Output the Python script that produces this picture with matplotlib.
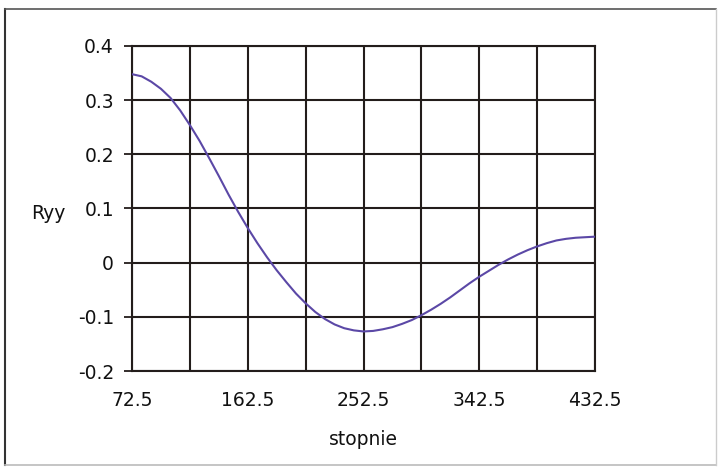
import matplotlib
matplotlib.use("Agg")
import matplotlib.pyplot as plt
from matplotlib.lines import Line2D
from matplotlib.ticker import FixedLocator

plt.rcParams['font.family'] = ['DejaVu Sans']

# Data (degrees vs Ryy)
degrees = [72.5, 80, 87.5, 95, 102.5, 110, 117.5, 125, 132.5, 140, 147.5, 155,
           162.5, 170, 177.5, 185, 192.5, 200, 207.5, 215, 222.5, 230, 237.5, 245,
           252.5, 260, 267.5, 275, 282.5, 290, 297.5, 305, 312.5, 320, 327.5, 335,
           342.5, 350, 357.5, 365, 372.5, 380, 387.5, 395, 402.5, 410, 417.5, 425,
           432.5]
ryy = [0.348, 0.344, 0.334, 0.321, 0.304, 0.281, 0.254, 0.225, 0.193, 0.160, 0.126, 0.094,
       0.064, 0.036, 0.010, -0.014, -0.036, -0.057, -0.075, -0.091, -0.104, -0.114, -0.121, -0.125,
       -0.127, -0.126, -0.123, -0.119, -0.113, -0.106, -0.097, -0.087, -0.076, -0.064, -0.051, -0.038,
       -0.026, -0.015, -0.004, 0.006, 0.015, 0.023, 0.030, 0.036, 0.041, 0.044, 0.046, 0.047,
       0.048]
x_ticks = [72.5, 162.5, 252.5, 342.5, 432.5]
x_tick_labels = ['72.5', '162.5', '252.5', '342.5', '432.5']
x_minor_grid = [117.5, 207.5, 297.5, 387.5]
y_ticks = [-0.2, -0.1, 0.0, 0.1, 0.2, 0.3, 0.4]
y_tick_labels = ['-0.2', '-0.1', '0', '0.1', '0.2', '0.3', '0.4']
x_label = 'stopnie'
y_label = 'Ryy'

W, H = 718, 473
fig = plt.figure(figsize=(W / 100, H / 100), dpi=100)
fig.patch.set_facecolor('white')

left, right, top, bottom = 132, 595, 46, 371
ax = fig.add_axes([left / W, 1 - bottom / H, (right - left) / W, (bottom - top) / H])

grid_color = '#231d1b'
ax.plot(degrees, ryy, color='#5b48a6', linewidth=1.5, zorder=3)

ax.set_xlim(72.5, 432.5)
ax.set_ylim(-0.2, 0.4)
ax.xaxis.set_major_locator(FixedLocator(x_ticks))
ax.xaxis.set_minor_locator(FixedLocator(x_minor_grid))
ax.set_xticklabels(x_tick_labels)
ax.set_yticks(y_ticks)
ax.set_yticklabels(y_tick_labels)

ax.grid(True, which='both', color=grid_color, linewidth=1.5)
for s in ax.spines.values():
    s.set_color(grid_color)
    s.set_linewidth(1.5)

ax.tick_params(axis='x', which='both', length=0, pad=14.5, labelsize=13.5, colors='#111111')
ax.tick_params(axis='y', which='major', length=6, width=1.3, color=grid_color,
               pad=7, labelsize=13.5, labelcolor='#111111')

ax.set_xlabel(x_label, fontsize=13.5, color='#111111', labelpad=14)
ax.set_ylabel(y_label, fontsize=13.5, color='#111111', rotation=0, va='center', ha='center')
ax.yaxis.set_label_coords(-0.18, 0.485)

# outer chart border
fig.add_artist(Line2D([5 / W, 5 / W], [1 - 9 / H, 1 - 465 / H], color='#333333', linewidth=1.5))
fig.add_artist(Line2D([5 / W, 716 / W], [1 - 9 / H, 1 - 9 / H], color='#555555', linewidth=1.2))
fig.add_artist(Line2D([5 / W, 716 / W], [1 - 465 / H, 1 - 465 / H], color='#bbbbbb', linewidth=1.2))
fig.add_artist(Line2D([716 / W, 716 / W], [1 - 9 / H, 1 - 465 / H], color='#cccccc', linewidth=1.0))

fig.savefig('out.png', dpi=100, facecolor='white')
